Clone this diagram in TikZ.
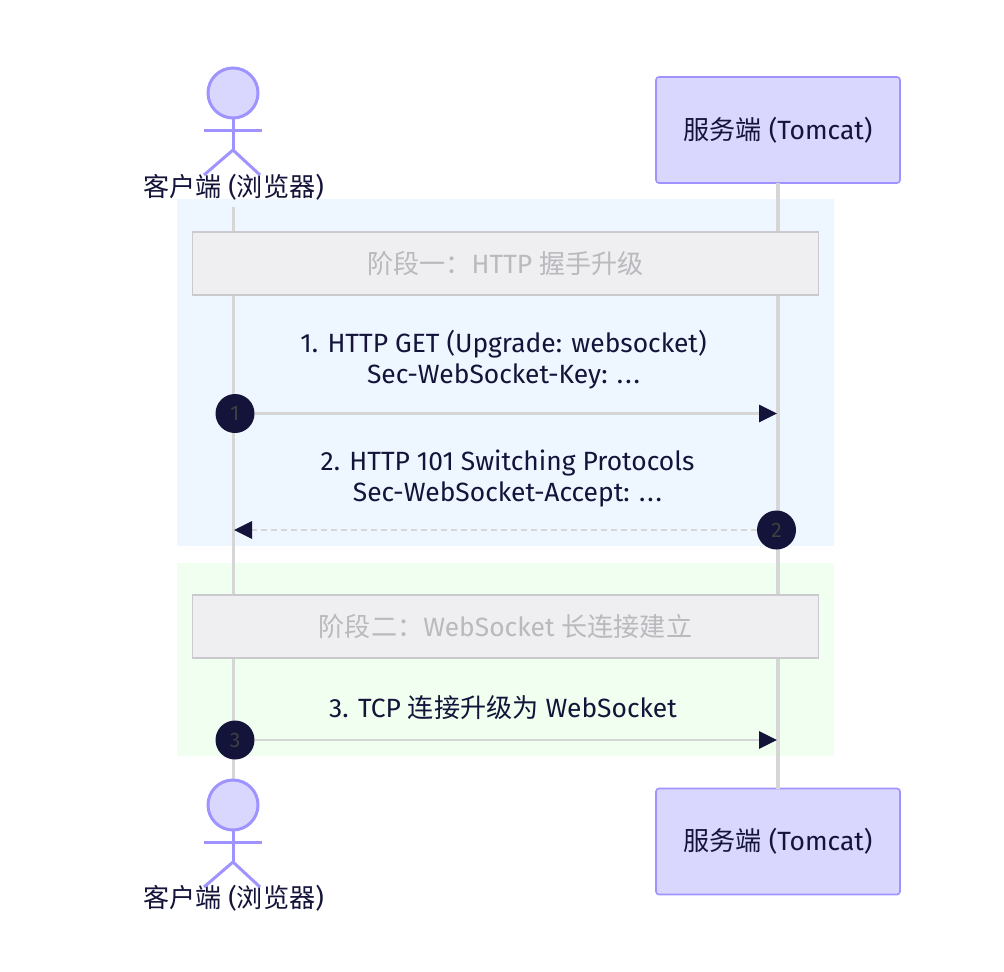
\documentclass[tikz,border=0pt]{standalone}
\usepackage{fontspec}
\setmainfont{Fira Sans}
\newfontfamily\cjk[Scale=0.99]{Noto Sans CJK SC}
\usetikzlibrary{arrows.meta}
\definecolor{ink}{HTML}{14143A}
\definecolor{lifeln}{HTML}{D6D6D6}
\definecolor{actorfill}{HTML}{DAD7FF}
\definecolor{actorline}{HTML}{9F94FF}
\definecolor{bluebg}{HTML}{EEF6FF}
\definecolor{greenbg}{HTML}{F0FFF0}
\definecolor{notefill}{HTML}{EFEFF1}
\definecolor{noteline}{HTML}{C9C9CE}
\definecolor{notetext}{HTML}{B9B9BE}
\definecolor{numtext}{HTML}{3F3F3F}
\newcommand{\zh}[1]{{\cjk #1}}
\newcommand{\spdots}{.\kern2bp.\kern2bp.}
\tikzset{
  x=1bp,y=-1bp,
  every node/.style={inner sep=0pt,outer sep=0pt},
  lifeline/.style={draw=lifeln,line width=3.2bp},
  msg/.style={draw=lifeln,line width=2.8bp,-{Triangle[length=18bp,width=17bp,color=ink]}},
  msgtext/.style={text=ink,font=\fontsize{26.4bp}{31bp}\selectfont,align=center},
  actorbox/.style={draw=actorline,fill=actorfill,line width=1.6bp,rounded corners=3bp,minimum width=244bp,minimum height=106bp,text=ink,font=\fontsize{26.4bp}{28bp}\selectfont},
  actorstroke/.style={draw=actorline,line width=3bp},
  notebox/.style={draw=noteline,fill=notefill,line width=1.8bp,minimum width=626bp,minimum height=63bp,text=notetext,font=\fontsize{26.4bp}{28bp}\selectfont},
  badge/.style={circle,fill=ink,minimum size=39bp,text=numtext,font=\fontsize{21bp}{22bp}\selectfont},
  actorname/.style={text=ink,font=\fontsize{26.4bp}{28bp}\selectfont},
}
\begin{document}
\begin{tikzpicture}
\useasboundingbox (0,0) rectangle (1004,972);
\fill[white] (0,0) rectangle (1004,972);
% phase backgrounds
\fill[bluebg] (177,199) rectangle (834,546);
\fill[greenbg] (177,563) rectangle (834,756);
% participants
\node[actorbox] (srvT) at (778,130) {\zh{服务端} (Tomcat)};
\node[actorbox] (srvB) at (778,841.5) {\zh{服务端} (Tomcat)};
\node[actorname] (cliT) at (233.5,187) {\zh{客户端} (\zh{浏览器})};
\node[actorname] (cliB) at (233.5,898) {\zh{客户端} (\zh{浏览器})};
\coordinate (cliTop) at (233.7,207);
\coordinate (cliBot) at (233.7,781);
% lifelines
\draw[lifeline] (cliTop) -- (cliBot);
\draw[lifeline] (srvT.south) -- (srvB.north);
% actor figures
\node[circle,draw=actorline,fill=actorfill,line width=3bp,minimum size=50bp] (headT) at (233,93) {};
\draw[actorstroke] (headT.south) -- (233,150) coordinate (hipT);
\draw[actorstroke] (204,130) -- (262,130);
\draw[actorstroke] (204,175) -- (hipT) -- (260,175);
\node[circle,draw=actorline,fill=actorfill,line width=3bp,minimum size=50bp] (headB) at (233,805) {};
\draw[actorstroke] (headB.south) -- (233,862) coordinate (hipB);
\draw[actorstroke] (204,842) -- (262,842);
\draw[actorstroke] (204,887) -- (hipB) -- (260,887);
% notes
\node[notebox] (note1) at (505.5,263.5) {\zh{阶段一：}HTTP \zh{握手升级}};
\node[notebox] (note2) at (505.5,626.5) {\raisebox{-0.7bp}{\zh{阶段二：}WebSocket \zh{长连接建立}}};
% messages
\node[msgtext] (t1) at (503.5,360) {1. HTTP GET (Upgrade: websocket)\\Sec-WebSocket-Key: \spdots};
\node[msgtext] (t2) at (507.5,478.5) {2. HTTP 101 Switching Protocols\\Sec-WebSocket-Accept: \spdots};
\node[msgtext] (t3) at (503,708) {3. TCP \zh{连接升级为} WebSocket};
\coordinate (r1) at (777,413.5);
\coordinate (l2) at (234,530);
\coordinate (r3) at (777,740);
\node[badge] (b1) at (235,413.5) {1};
\node[badge] (b2) at (776.5,530) {2};
\node[badge] (b3) at (235,740) {3};
\draw[msg] (b1) -- (r1);
\draw[msg,dash pattern=on 6bp off 4bp] (b2) -- (l2);
\draw[msg] (b3) -- (r3);
\end{tikzpicture}
\end{document}
